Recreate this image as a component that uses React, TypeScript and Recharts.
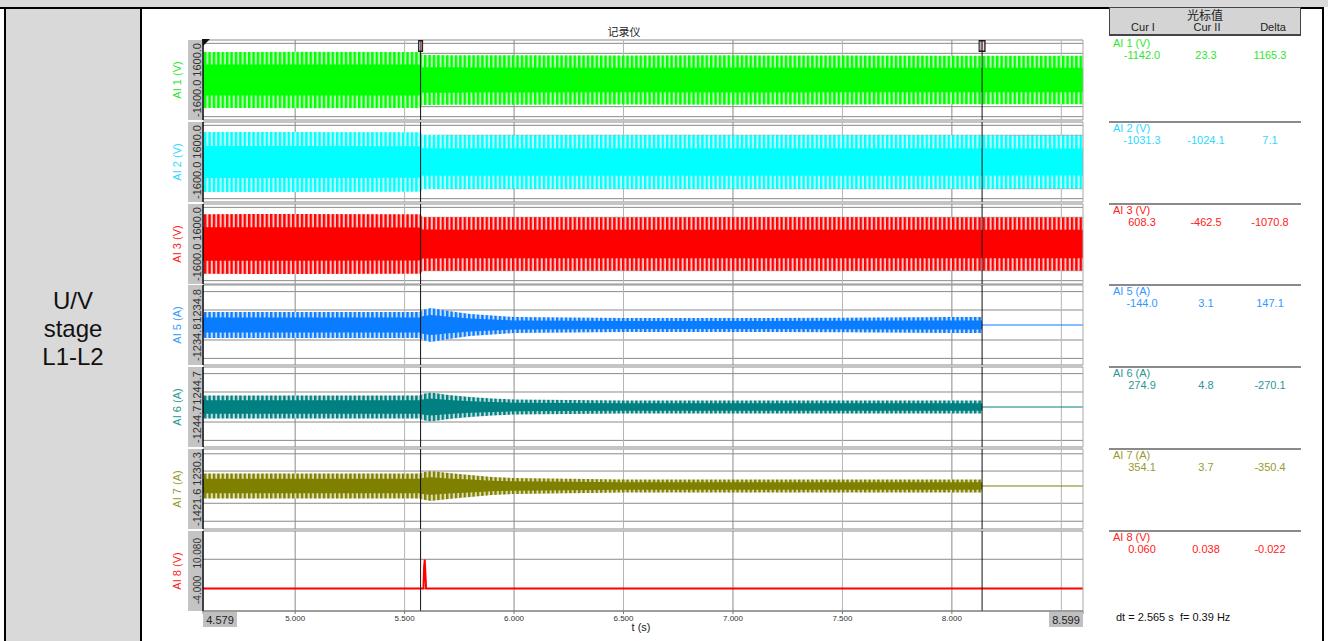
import React from 'react';
import {
  ComposedChart,
  Area,
  Line,
  XAxis,
  YAxis,
  CartesianGrid,
  ReferenceLine,
} from 'recharts';

const FONT = 'Arial, "Liberation Sans", sans-serif';

// time axis (s)
const tStart = 4.579;
const tEnd = 8.599;
const cursorI = 5.573;
const cursorII = 8.138;
const xTicks = [4.579, 5.0, 5.5, 6.0, 6.5, 7.0, 7.5, 8.0, 8.599];
const majorGrid = [5.0, 6.0, 7.0, 8.0];
const minorGrid = [5.5, 6.5, 7.5, 8.5];

// envelope of each trace, read at these times
const times = [4.579, 5.0, 5.5, 5.573, 5.58, 5.62, 5.7, 5.8, 5.9, 6.0, 6.5, 7.0, 7.5, 8.0, 8.137, 8.139, 8.599];

const ai1Outer = [1680, 1690, 1680, 1680, 1500, 1500, 1490, 1480, 1480, 1480, 1470, 1480, 1470, 1460, 1460, 1460, 1450];
const ai1Core = [930, 930, 930, 930, 760, 760, 760, 750, 750, 750, 740, 750, 740, 740, 740, 740, 740];
const ai2Outer = [1800, 1800, 1790, 1790, 1620, 1620, 1610, 1600, 1600, 1600, 1600, 1610, 1600, 1600, 1600, 1600, 1590];
const ai2Core = [960, 960, 950, 950, 830, 830, 820, 820, 820, 820, 820, 820, 820, 820, 820, 820, 810];
const ai3Outer = [1790, 1800, 1790, 1790, 1610, 1610, 1600, 1600, 1600, 1600, 1590, 1600, 1600, 1590, 1590, 1590, 1590];
const ai3Core = [1000, 1000, 990, 990, 870, 870, 860, 860, 860, 860, 860, 860, 860, 860, 860, 860, 860];
const ai5Outer = [1070, 1070, 1070, 1070, 1235, 1400, 1150, 905, 780, 660, 575, 575, 600, 650, 650, 0, 0];
const ai5Core = [620, 620, 620, 620, 720, 820, 670, 530, 450, 380, 330, 330, 350, 380, 380, 0, 0];
const ai6Outer = [955, 955, 955, 955, 1080, 1200, 1000, 830, 705, 620, 540, 540, 540, 545, 545, 0, 0];
const ai6Core = [560, 560, 560, 560, 630, 700, 580, 480, 410, 360, 315, 315, 315, 320, 320, 0, 0];
const ai7Outer = [1030, 1030, 1030, 1030, 1110, 1235, 1070, 905, 740, 660, 535, 535, 535, 540, 540, 0, 0];
const ai7Core = [600, 600, 600, 600, 650, 720, 620, 530, 430, 385, 310, 310, 310, 315, 315, 0, 0];
// currents drop to a flat line after the trip
const afterTrip = [null, null, null, null, null, null, null, null, null, null, null, null, null, null, null, 0, 0];

const ai8Times = [4.579, 5.586, 5.589, 5.592, 5.595, 5.598, 8.599];
const ai8Values = [0, 0, 7.5, 10, 5, 0, 0];

// cursor table
const channelNames = ['AI 1 (V)', 'AI 2 (V)', 'AI 3 (V)', 'AI 5 (A)', 'AI 6 (A)', 'AI 7 (A)', 'AI 8 (V)'];
const curIValues = ['-1142.0', '-1031.3', '608.3', '-144.0', '274.9', '354.1', '0.060'];
const curIIValues = ['23.3', '-1024.1', '-462.5', '3.1', '4.8', '3.7', '0.038'];
const deltaValues = ['1165.3', '7.1', '-1070.8', '147.1', '-270.1', '-350.4', '-0.022'];

type PanelCfg = {
  id: string;
  color: string;
  light: string;
  text: string;
  domain: [number, number];
  ticks: number[];
  grid: number[];
  digits: number;
  labelInset: number;
  labelFont: number;
  outer?: number[];
  core?: number[];
  flat?: (number | null)[];
};

const panels: PanelCfg[] = [
  { id: 'ai1', color: '#00ff00', light: '#b8ffb8', text: '#2fe62f', domain: [-2400, 2400], ticks: [-1600, 1600], grid: [-2200, -1600, -720, 720, 1600, 2200], digits: 1, labelInset: 3, labelFont: 11, outer: ai1Outer, core: ai1Core },
  { id: 'ai2', color: '#00ffff', light: '#c0ffff', text: '#2fd8ff', domain: [-2400, 2400], ticks: [-1600, 1600], grid: [-2200, -1600, -720, 720, 1600, 2200], digits: 1, labelInset: 3, labelFont: 11, outer: ai2Outer, core: ai2Core },
  { id: 'ai3', color: '#ff0000', light: '#ffc4c4', text: '#ff2020', domain: [-2400, 2400], ticks: [-1600, 1600], grid: [-2200, -1600, -720, 720, 1600, 2200], digits: 1, labelInset: 3, labelFont: 11, outer: ai3Outer, core: ai3Core },
  { id: 'ai5', color: '#0a7cff', light: '#c4defc', text: '#3399ff', domain: [-3293, 3293], ticks: [-1234.8, 1234.8], grid: [-2750, -1234.8, 1234.8, 2750], digits: 1, labelInset: 4, labelFont: 11, outer: ai5Outer, core: ai5Core, flat: afterTrip },
  { id: 'ai6', color: '#008080', light: '#c0dede', text: '#2a9696', domain: [-3319, 3319], ticks: [-1244.7, 1244.7], grid: [-2770, -1244.7, 1244.7, 2770], digits: 1, labelInset: 4, labelFont: 11, outer: ai6Outer, core: ai6Core, flat: afterTrip },
  { id: 'ai7', color: '#808000', light: '#e0e0b8', text: '#9a9a30', domain: [-3539, 3045], ticks: [-1421.6, 1230.3], grid: [-2900, -1421.6, 1230.3, 2650], digits: 1, labelInset: 3, labelFont: 11, outer: ai7Outer, core: ai7Core, flat: afterTrip },
  { id: 'ai8', color: '#ff0000', light: '#ffc4c4', text: '#ff2020', domain: [-7.76, 19.83], ticks: [-4, 10.08], grid: [0, 10.08], digits: 3, labelInset: 7, labelFont: 10, },
];

const PANEL_TOP = 40;
const PANEL_PITCH = 81.8;
const CHART_LEFT = 160;
const CHART_W = 928;

// axis labels sit in the grey strip: max value hugs the top, min value hugs the bottom
const YTick = (props: any) => {
  const { payload, digits, max, inset, size } = props;
  const isMax = payload.value === max;
  const y = isMax ? 1 + inset : 81 - inset;
  return (
    <text
      x={41}
      y={y}
      transform={`rotate(-90 41 ${y})`}
      textAnchor={isMax ? 'end' : 'start'}
      fontSize={size}
      fill="#333"
      fontFamily={FONT}
    >
      {Number(payload.value).toFixed(digits)}
    </text>
  );
};

const XTick = (props: any) => {
  const { x, payload } = props;
  const v = payload.value;
  if (v === tStart || v === tEnd) {
    const w = 34;
    const rx = v === tStart ? x : x - w;
    return (
      <g>
        <rect x={rx} y={82} width={w} height={15} fill="#c0c0c0" />
        <text x={rx + w / 2} y={94} textAnchor="middle" fontSize={11} fill="#222" fontFamily={FONT}>
          {v.toFixed(3)}
        </text>
      </g>
    );
  }
  return (
    <text x={x} y={91} textAnchor="middle" fontSize={8} fill="#333" fontFamily={FONT}>
      {v.toFixed(3)}
    </text>
  );
};

// little cursor flag drawn at top of the first strip
const cursorFlag = (double: boolean) => (props: any) => {
  const vb = props.viewBox ?? props;
  const x = vb.x;
  const y = vb.y;
  const w = double ? 7 : 5;
  return (
    <g>
      <rect x={x - w / 2} y={y} width={w} height={12} fill="#1a1a1a" />
      <rect x={x - w / 2 + 1} y={y + 1.5} width={1.4} height={9} fill="#9fb8d8" />
      <rect x={x - w / 2 + 2.6} y={y + 1.5} width={1.4} height={9} fill="#c07050" />
      {double && <rect x={x - w / 2 + 4.3} y={y + 1.5} width={1.4} height={9} fill="#e0e0e0" />}
    </g>
  );
};

function Panel({ p, index }: { p: PanelCfg; index: number }) {
  const top = PANEL_TOP + index * PANEL_PITCH;
  const isLast = index === panels.length - 1;
  const data =
    p.id === 'ai8'
      ? ai8Times.map((t, i) => ({ t, v: ai8Values[i] }))
      : times.map((t, i) => ({
          t,
          outer: [-(p.outer as number[])[i], (p.outer as number[])[i]],
          core: [-(p.core as number[])[i], (p.core as number[])[i]],
          flat: p.flat ? p.flat[i] : null,
        }));

  return (
    <div style={{ position: 'absolute', left: CHART_LEFT, top: top - 1 }}>
      <ComposedChart
        width={CHART_W}
        height={isLast ? 103 : 82}
        data={data}
        margin={{ top: 1, right: 5, bottom: 1, left: 29 }}
      >
        <defs>
          <pattern id={`stripe-${p.id}`} width={4.4} height={8} patternUnits="userSpaceOnUse">
            <rect x={0} y={0} width={4.4} height={8} fill={p.light} />
            <rect x={0} y={0} width={2.4} height={8} fill={p.color} />
          </pattern>
        </defs>
        <CartesianGrid vertical={false} horizontalValues={[p.domain[0], p.domain[1], ...p.grid]} stroke="#8a8a8a" />
        <CartesianGrid horizontal={false} verticalValues={minorGrid} stroke="#b4b4b4" />
        <CartesianGrid horizontal={false} verticalValues={majorGrid} stroke="#8a8a8a" />
        <XAxis
          dataKey="t"
          type="number"
          domain={[tStart, tEnd]}
          allowDataOverflow
          ticks={xTicks}
          interval={0}
          hide={!isLast}
          height={21}
          tick={<XTick />}
          tickSize={3}
          tickLine={{ stroke: '#777' }}
          axisLine={{ stroke: '#777' }}
        />
        <YAxis
          type="number"
          domain={p.domain}
          allowDataOverflow
          ticks={p.ticks}
          interval={0}
          width={14}
          axisLine={false}
          tickLine={false}
          tick={<YTick digits={p.digits} max={p.ticks[1]} inset={p.labelInset} size={p.labelFont} />}
        />
        {p.id !== 'ai8' && (
          <Area
            dataKey="outer"
            type="linear"
            stroke="none"
            fill={`url(#stripe-${p.id})`}
            fillOpacity={1}
            isAnimationActive={false}
          />
        )}
        {p.id !== 'ai8' && (
          <Area dataKey="core" type="linear" stroke="none" fill={p.color} fillOpacity={1} isAnimationActive={false} />
        )}
        {p.flat && (
          <Line dataKey="flat" type="linear" stroke={p.color} strokeWidth={1} dot={false} isAnimationActive={false} />
        )}
        {p.id === 'ai8' && (
          <Line dataKey="v" type="linear" stroke={p.color} strokeWidth={2} dot={false} isAnimationActive={false} />
        )}
        <ReferenceLine x={tStart} stroke="#000" strokeWidth={1.5} />
        <ReferenceLine x={tEnd} stroke="#a8a8a8" />
        <ReferenceLine x={cursorI} stroke="#111" label={index === 0 ? cursorFlag(false) : undefined} />
        <ReferenceLine x={cursorII} stroke="#111" label={index === 0 ? cursorFlag(true) : undefined} />
      </ComposedChart>
    </div>
  );
}

export default function App() {
  const abs = (s: React.CSSProperties): React.CSSProperties => ({ position: 'absolute', ...s });
  const rowSep = panels.map((_, i) => (i === 0 ? 35.7 : PANEL_TOP + i * PANEL_PITCH - 1));
  const cols = [1142, 1206, 1270];

  return (
    <div
      style={abs({
        left: 0,
        top: 0,
        width: 1328,
        height: 641,
        background: '#fff',
        overflow: 'hidden',
        fontFamily: FONT,
      })}
    >
      {/* frame of the report table */}
      <div style={abs({ left: 0, top: 0, width: 1328, height: 7, background: '#d9d9d9' })} />
      <div style={abs({ left: 0, top: 7, width: 1324, height: 2, background: '#000' })} />
      <div style={abs({ left: 4, top: 7, width: 2, height: 634, background: '#000' })} />
      <div style={abs({ left: 6, top: 9, width: 134, height: 632, background: '#d9d9d9' })} />
      <div style={abs({ left: 140, top: 7, width: 2, height: 634, background: '#000' })} />
      <div style={abs({ left: 1322, top: 7, width: 2, height: 634, background: '#000' })} />
      <div
        style={abs({
          left: 6,
          top: 287,
          width: 134,
          textAlign: 'center',
          fontSize: 24,
          lineHeight: '28px',
          color: '#111',
        })}
      >
        U/V
        <br />
        stage
        <br />
        L1-L2
      </div>

      {/* title */}
      <div
        style={abs({
          left: 624,
          top: 25,
          transform: 'translateX(-50%)',
          fontSize: 11,
          lineHeight: '13px',
          color: '#222',
          fontFamily: '"Noto Sans CJK SC", sans-serif',
        })}
      >
        记录仪
      </div>

      {/* axis label boxes + channel names */}
      {panels.map((p, i) => {
        const top = PANEL_TOP + i * PANEL_PITCH;
        return (
          <React.Fragment key={p.id}>
            <div style={abs({ left: 188, top: top, width: 14, height: 80, background: '#c4c4c4' })} />
            <div
              style={abs({
                left: 177,
                top: top + 40,
                transform: 'translate(-50%, -50%) rotate(-90deg)',
                fontSize: 11,
                lineHeight: '12px',
                whiteSpace: 'nowrap',
                color: p.text,
              })}
            >
              {channelNames[i]}
            </div>
          </React.Fragment>
        );
      })}

      {panels.map((p, i) => (
        <Panel key={p.id} p={p} index={i} />
      ))}

      {/* start marker */}
      <svg style={abs({ left: 0, top: 0 })} width={1328} height={641} pointerEvents="none">
        <polygon points="202,39 210,39 203,46" fill="#111" />
      </svg>

      <div
        style={abs({
          left: 641,
          top: 621,
          transform: 'translateX(-50%)',
          fontSize: 11,
          lineHeight: '13px',
          color: '#222',
        })}
      >
        t (s)
      </div>

      {/* cursor value table */}
      <div
        style={abs({
          left: 1109,
          top: 7,
          width: 190,
          height: 26,
          background: '#d4d4d4',
          border: '1px solid #444',
          borderBottomWidth: 2,
        })}
      />
      <div style={abs({ left: 1205, top: 8, transform: 'translateX(-50%)', fontSize: 12, lineHeight: '13px', color: '#222', fontFamily: '"Noto Sans CJK SC", sans-serif' })}>
        光标值
      </div>
      {['Cur I', 'Cur II', 'Delta'].map((h, k) => (
        <div
          key={h}
          style={abs({ left: [1143, 1207, 1273][k] - 30, top: 21, width: 60, textAlign: 'center', fontSize: 11, lineHeight: '12px', color: '#222' })}
        >
          {h}
        </div>
      ))}
      {panels.map((p, i) => (
        <React.Fragment key={`row-${p.id}`}>
          {i > 0 && <div style={abs({ left: 1109, top: rowSep[i], width: 192, height: 2, background: '#8a8a8a' })} />}
          <div style={abs({ left: 1113, top: rowSep[i] + 1, fontSize: 11, lineHeight: '12px', color: p.text, whiteSpace: 'nowrap' })}>
            {channelNames[i]}
          </div>
          {[curIValues[i], curIIValues[i], deltaValues[i]].map((v, k) => (
            <div
              key={k}
              style={abs({ left: cols[k] - 40, top: rowSep[i] + 13, width: 80, textAlign: 'center', fontSize: 11, lineHeight: '12px', color: p.text })}
            >
              {v}
            </div>
          ))}
        </React.Fragment>
      ))}
      <div style={abs({ left: 1116, top: 611, fontSize: 11, lineHeight: '12px', color: '#111', whiteSpace: 'pre' })}>
        {'dt = 2.565 s  f= 0.39 Hz'}
      </div>
    </div>
  );
}
